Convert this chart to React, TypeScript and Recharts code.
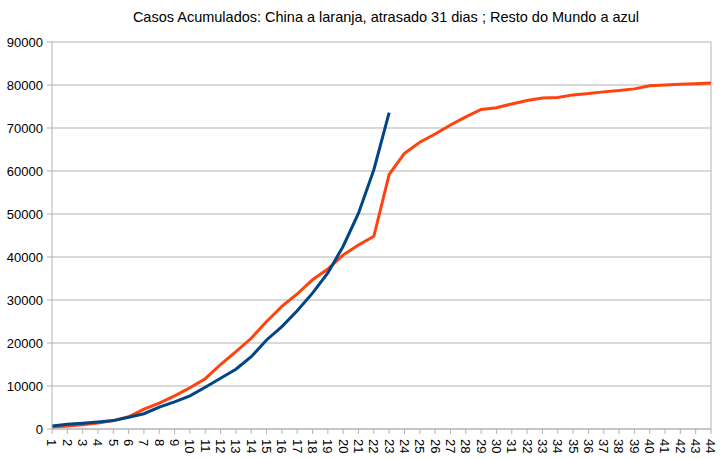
import React from "react";
import { LineChart, Line, XAxis, YAxis, CartesianGrid, ReferenceLine } from "recharts";

const days = [1, 2, 3, 4, 5, 6, 7, 8, 9, 10, 11, 12, 13, 14, 15, 16, 17, 18, 19, 20, 21, 22, 23, 24, 25, 26, 27, 28, 29, 30, 31, 32, 33, 34, 35, 36, 37, 38, 39, 40, 41, 42, 43, 44];

const chinaCases = [450, 700, 1000, 1400, 1950, 2850, 4600, 6000, 7700, 9600, 11700, 15000, 18000, 21100, 25000, 28500, 31400, 34700, 37200, 40500, 42800, 44800, 59200, 64100, 66700, 68600, 70700, 72600, 74300, 74700, 75600, 76400, 77000, 77100, 77700, 78000, 78400, 78700, 79100, 79800, 80000, 80150, 80300, 80450];

const worldCases = [700, 1100, 1350, 1650, 1950, 2750, 3550, 5100, 6300, 7700, 9700, 11800, 13900, 16800, 20700, 23800, 27500, 31600, 36300, 42500, 50200, 60300, 73600];

const yTicks = [0, 10000, 20000, 30000, 40000, 50000, 60000, 70000, 80000, 90000];

const title = "Casos Acumulados: China a laranja, atrasado 31 dias ; Resto do Mundo a azul";

const data = days.map((d, i) => ({
  day: d,
  china: chinaCases[i],
  world: i < worldCases.length ? worldCases[i] : null,
}));

const FONT = "'Liberation Sans', Arial, sans-serif";

const XTick = (props: any) => {
  const { x, y, payload } = props;
  return (
    <g transform={`translate(${x},${y})`}>
      <text
        x={1}
        y={0}
        dy="0.35em"
        transform="rotate(90)"
        textAnchor="start"
        fontSize={13}
        fontFamily={FONT}
        fill="#000"
      >
        {payload.value}
      </text>
    </g>
  );
};

export default function App() {
  return (
    <div style={{ position: "absolute", left: 0, top: 0, width: 728, height: 459, background: "#fff" }}>
      <div
        style={{
          position: "absolute",
          left: 0,
          top: 9,
          width: 772,
          textAlign: "center",
          fontFamily: FONT,
          fontSize: 14.5,
          color: "#000",
          lineHeight: "17px",
        }}
      >
        {title}
      </div>
      <LineChart
        width={728}
        height={459}
        data={data}
        margin={{ top: 42, right: 17, left: 0, bottom: 0 }}
      >
        <CartesianGrid vertical={false} stroke="#b3b3b3" />
        <XAxis
          dataKey="day"
          type="category"
          interval={0}
          height={30}
          tickSize={5}
          tickMargin={4}
          tick={<XTick />}
          axisLine={{ stroke: "#b3b3b3" }}
          tickLine={{ stroke: "#b3b3b3" }}
        />
        <YAxis
          width={52}
          domain={[0, 90000]}
          ticks={yTicks}
          interval={0}
          tickSize={5}
          tickMargin={4}
          tick={{ fontSize: 13, fontFamily: FONT, fill: "#000" }}
          axisLine={{ stroke: "#b3b3b3" }}
          tickLine={{ stroke: "#b3b3b3" }}
        />
        <ReferenceLine x={44} stroke="#b3b3b3" />
        <Line
          dataKey="china"
          stroke="#ff420e"
          strokeWidth={3}
          dot={false}
          isAnimationActive={false}
        />
        <Line
          dataKey="world"
          stroke="#004586"
          strokeWidth={3}
          dot={false}
          isAnimationActive={false}
        />
      </LineChart>
    </div>
  );
}
